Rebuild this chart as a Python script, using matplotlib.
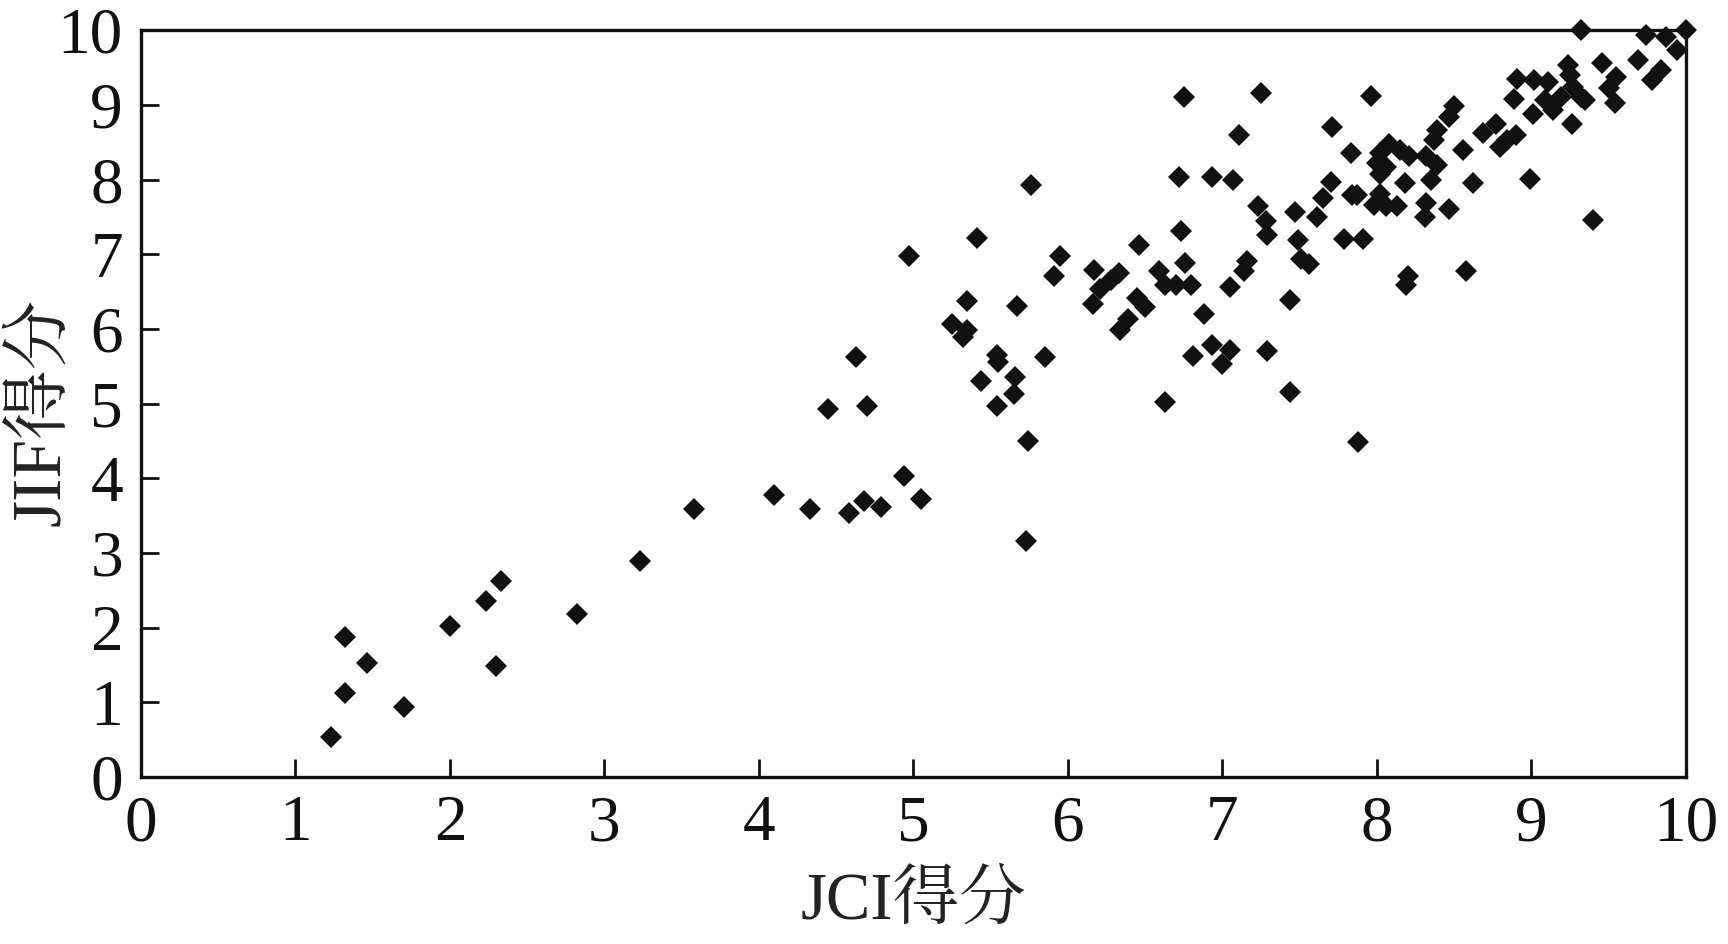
import matplotlib
matplotlib.use("Agg")
import matplotlib.pyplot as plt

jci = [1.23, 1.32, 1.32, 1.46, 1.70, 2.00, 2.23, 2.33, 2.30, 2.82, 3.23, 3.58,
       4.10, 4.33, 4.58, 4.68, 4.79, 4.94, 5.05, 4.45, 4.70, 4.63, 4.97, 5.41,
       5.35, 5.25, 5.35, 5.32, 5.54, 5.55, 5.44, 5.66, 5.65, 5.54, 5.74, 5.73,
       5.76, 5.95, 5.91, 5.67, 5.85, 6.17, 6.33, 6.28, 6.21, 6.16, 6.46, 6.45,
       6.50, 6.39, 6.34, 6.59, 6.76, 6.63, 6.70, 6.80, 6.73, 6.72, 6.75, 6.63,
       6.81, 6.88, 6.93, 7.05, 7.00, 6.93, 7.07, 7.11, 7.25, 7.16, 7.14, 7.05,
       7.23, 7.28, 7.29, 7.29, 7.44, 7.44, 7.47, 7.49, 7.51, 7.56, 7.61, 7.65,
       7.70, 7.71, 7.83, 7.84, 7.79, 7.91, 7.88, 7.96, 7.87, 8.02, 7.98, 8.06,
       8.13, 8.08, 8.02, 8.15, 8.21, 8.00, 8.06, 8.02, 8.18, 8.32, 8.39, 8.35,
       8.32, 8.31, 8.47, 8.20, 8.19, 8.58, 8.50, 8.47, 8.39, 8.37, 8.56, 8.62,
       8.77, 8.69, 8.90, 8.84, 8.80, 8.99, 8.91, 9.02, 9.11, 8.89, 9.01, 9.14,
       9.09, 9.19, 9.32, 9.35, 9.26, 9.24, 9.25, 9.27, 9.46, 9.55, 9.50, 9.54,
       9.40, 9.32, 9.69, 9.78, 9.84, 9.74, 9.87, 9.94, 10.0]
jif = [0.53, 1.12, 1.87, 1.52, 0.94, 2.02, 2.35, 2.63, 1.49, 2.18, 2.89, 3.59,
       3.77, 3.59, 3.53, 3.70, 3.61, 4.03, 3.72, 4.93, 4.97, 5.63, 6.97, 7.22,
       6.38, 6.06, 5.99, 5.89, 5.65, 5.56, 5.30, 5.35, 5.13, 4.97, 4.50, 3.16,
       7.93, 6.98, 6.71, 6.31, 5.63, 6.79, 6.75, 6.66, 6.53, 6.34, 7.13, 6.41,
       6.29, 6.13, 5.99, 6.78, 6.88, 6.59, 6.59, 6.59, 7.31, 8.04, 9.11, 5.02,
       5.64, 6.20, 5.78, 5.72, 5.53, 8.03, 8.00, 8.60, 9.16, 6.91, 6.77, 6.56,
       7.64, 7.44, 7.26, 5.70, 6.39, 5.16, 7.57, 7.19, 6.94, 6.87, 7.50, 7.75,
       7.97, 8.71, 8.35, 7.79, 7.20, 7.20, 4.49, 9.12, 7.79, 7.81, 7.66, 7.64,
       7.64, 8.48, 8.35, 8.39, 8.31, 8.22, 8.17, 8.08, 7.95, 8.31, 8.19, 7.99,
       7.68, 7.50, 7.61, 6.71, 6.59, 6.77, 8.98, 8.84, 8.66, 8.53, 8.39, 7.95,
       8.75, 8.62, 8.60, 8.53, 8.44, 8.01, 9.35, 9.33, 9.30, 9.08, 8.88, 8.93,
       9.06, 9.10, 9.10, 9.06, 8.74, 9.53, 9.40, 9.24, 9.56, 9.38, 9.22, 9.02,
       7.46, 10.0, 9.60, 9.33, 9.47, 9.93, 9.91, 9.73, 10.0]

x_ticks = [0, 1, 2, 3, 4, 5, 6, 7, 8, 9, 10]
y_ticks = [0, 1, 2, 3, 4, 5, 6, 7, 8, 9, 10]
x_label = "JCI得分"
y_label = "JIF得分"

fam = ["Liberation Serif", "Noto Serif CJK SC", "Noto Sans CJK SC", "DejaVu Sans"]
plt.rcParams["font.family"] = fam

fig = plt.figure(figsize=(17.28, 9.44), dpi=100)
ax = fig.add_axes([0.0816, 0.177, 0.894, 0.791])

ax.plot(jci, jif, linestyle="none", marker="D", markersize=11.5,
        color="#111111", markeredgewidth=0, clip_on=False)

ax.set_xlim(0, 10)
ax.set_ylim(0, 10)
ax.set_xticks(x_ticks)
ax.set_yticks(y_ticks)
ax.set_xticklabels([str(t) for t in x_ticks])
ax.set_yticklabels([str(t) for t in y_ticks])
ax.tick_params(axis="both", direction="in", length=13, width=2, labelsize=47,
               colors="#111111", top=False, right=False)
ax.tick_params(axis="x", pad=13)
ax.tick_params(axis="y", pad=13)
for s in ax.spines.values():
    s.set_linewidth(2.4)
    s.set_color("#111111")

ax.set_xlabel(x_label, fontsize=48, color="#222222")
ax.set_ylabel(y_label, fontsize=50, color="#222222")
ax.xaxis.set_label_coords(0.5, -0.127)
ax.yaxis.set_label_coords(-0.043, 0.489)

fig.savefig("out.png", dpi=100, facecolor="white")
